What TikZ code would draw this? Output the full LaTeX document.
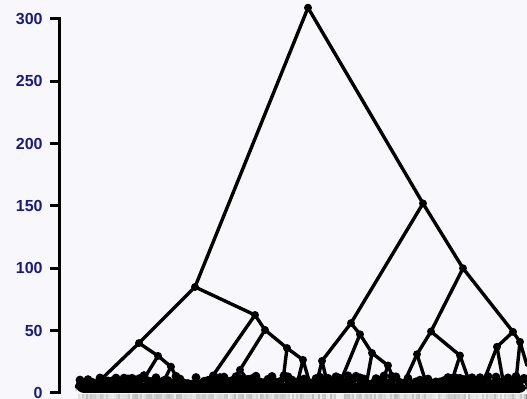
\documentclass[tikz,border=0pt]{standalone}
\usepackage{fontspec}
\setsansfont{Liberation Sans}
\usepackage{tikz}
\usetikzlibrary{calc}
\usepackage{xcolor}
\definecolor{paperbg}{HTML}{F8F8FC}
\definecolor{ticknavy}{HTML}{1A1A80}
\definecolor{labelgrey}{HTML}{9A9A9A}
\tikzset{
  axisline/.style={draw=black, line width=1.5pt},
  ticklabel/.style={font=\sffamily\bfseries\fontsize{8}{9}\selectfont, text=ticknavy,
                    anchor=east, inner sep=0pt},
  dendro/.style={draw=black, line width=1.7pt, line cap=round, line join=round},
  twig/.style={draw=black, line width=1.6pt, line cap=round, line join=round},
  merge/.style={circle, fill=black, inner sep=0pt, minimum size=4pt},
}

\begin{document}
\begin{tikzpicture}[x=0.5pt, y=0.6233pt]

  % --- canvas: 527 x 399 px, height axis 0..300 ---
  \path[fill=paperbg, use as bounding box] (0,-4.81) rectangle (527,315.2);

  % --- height axis ---
  \draw[axisline] (50,300) -- (60,300) -- (60,0) -- (50,0);
  \foreach \v in {50,100,...,250}
    \draw[axisline] (50,\v) -- (60,\v);
  \foreach \v in {0,50,...,300}
    \node[ticklabel] (tick\v) at (43,\v) {\v};

  % --- leaf labels (unreadable grey strip) ---
  \fill[labelgrey] (78,-0.9) rectangle (527,-4.81);
  \pgfmathsetseed{11}
  \foreach \x in {79,81,...,525} {
    \pgfmathsetmacro\g{35+50*rnd}
    \draw[white!\g!labelgrey, line width=0.6pt] (\x,-1) -- (\x,-4.7);
  }

  % --- leaf band ---
  \fill[black, rounded corners=4pt] (76,0) rectangle (527,8);
  \fill[black] (83,6) ellipse [x radius=7, y radius=5.5];
  \pgfmathsetseed{5}
  \foreach \x in {80,84,...,524} {
    \pgfmathsetmacro\hh{7+7*rnd}
    \pgfmathsetmacro\w{1.5+2.5*rnd}
    \draw[twig] (\x-\w,5) -- (\x,\hh) -- (\x+\w,5);
    \fill (\x,\hh) circle[radius=2.2pt];
  }

  % --- merges ---
  \node[merge] (root)   at (308,309)  {};
  \node[merge] (lc)     at (195,85)   {};
  \node[merge] (rc)     at (423,152)  {};
  \node[merge] (lc1)    at (139,40)   {};
  \node[merge] (lc1r)   at (158,29.7) {};
  \node[merge] (lc1rr)  at (171,21)   {};
  \node[merge] (lc2)    at (255,62.5) {};
  \node[merge] (lc2l)   at (213,14)   {};
  \node[merge] (lc2b)   at (265,50.5) {};
  \node[merge] (lc2bl)  at (240,18.5) {};
  \node[merge] (lc2b2)  at (287,36)   {};
  \node[merge] (lc2b2r) at (303,26.5) {};
  \node[merge] (rc1)    at (351,56)   {};
  \node[merge] (rc1l)   at (322,25.7) {};
  \node[merge] (rc1r)   at (360,47)   {};
  \node[merge] (rc1rr)  at (372,32)   {};
  \node[merge] (rc1rrr) at (388,22)   {};
  \node[merge] (rc2)    at (463,100)  {};
  \node[merge] (rc2a)   at (431,49.3) {};
  \node[merge] (rc2al)  at (417,31)   {};
  \node[merge] (rc2ar)  at (460,30)   {};
  \node[merge] (rc2b)   at (513,49)   {};
  \node[merge] (rc2bl)  at (497,37)   {};
  \node[merge] (rc2br)  at (520,41)   {};

  % --- leaf ends ---
  \coordinate (l1)  at (100,10);
  \coordinate (l2)  at (143,10);
  \coordinate (l3)  at (164,10);
  \coordinate (l4)  at (178,10);
  \coordinate (l5)  at (205,9);
  \coordinate (l6)  at (221,9);
  \coordinate (l7)  at (232,10);
  \coordinate (l8)  at (248,10);
  \coordinate (l9)  at (283,10);
  \coordinate (l10) at (298,10);
  \coordinate (l11) at (309,10);
  \coordinate (l12) at (317,9);
  \coordinate (l13) at (327,9);
  \coordinate (l14) at (341,10);
  \coordinate (l15) at (367,10);
  \coordinate (l16) at (383,10);
  \coordinate (l17) at (394,10);
  \coordinate (l18) at (405,10);
  \coordinate (l19) at (425,11);
  \coordinate (l20) at (452,10);
  \coordinate (l21) at (468,12);
  \coordinate (l22) at (484,10);
  \coordinate (l23) at (503,10);
  \coordinate (l24) at (516,10);
  \coordinate (l25) at (527,22);

  % --- branches ---
  \foreach \p/\c in {root/lc, root/rc,
                     lc/lc1, lc/lc2, lc1/l1, lc1/lc1r, lc1r/l2, lc1r/lc1rr,
                     lc1rr/l3, lc1rr/l4, lc2/lc2l, lc2/lc2b, lc2l/l5, lc2l/l6,
                     lc2b/lc2bl, lc2b/lc2b2, lc2bl/l7, lc2bl/l8, lc2b2/l9,
                     lc2b2/lc2b2r, lc2b2r/l10, lc2b2r/l11,
                     rc/rc1, rc/rc2, rc1/rc1l, rc1/rc1r, rc1l/l12, rc1l/l13,
                     rc1r/l14, rc1r/rc1rr, rc1rr/l15, rc1rr/rc1rrr,
                     rc1rrr/l16, rc1rrr/l17,
                     rc2/rc2a, rc2/rc2b, rc2a/rc2al, rc2a/rc2ar,
                     rc2al/l18, rc2al/l19, rc2ar/l20, rc2ar/l21,
                     rc2b/rc2bl, rc2b/rc2br, rc2bl/l22, rc2bl/l23,
                     rc2br/l24, rc2br/l25}
    \draw[dendro] (\p.center) -- (\c.center);

\end{tikzpicture}
\end{document}
